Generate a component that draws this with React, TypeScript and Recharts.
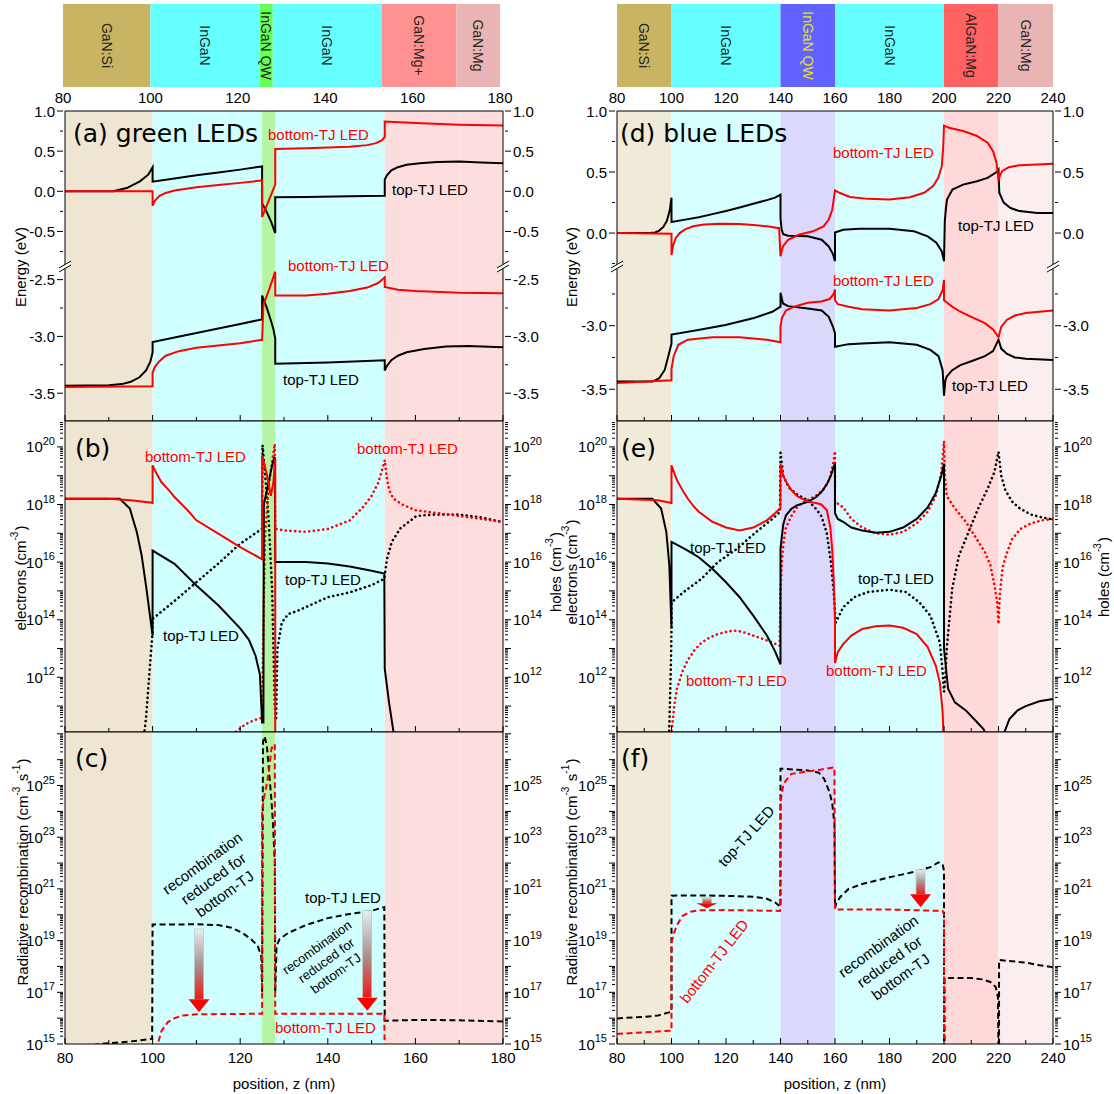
import React from 'react'
import { ComposedChart, Line, Area, XAxis, YAxis, ReferenceArea, ReferenceLine } from 'recharts'

const FONT = '"Liberation Sans", Arial, sans-serif'
const TITLE_FONT = '"DejaVu Sans", Verdana, sans-serif'
const RED = '#ff0000'
const BLK = '#000000'

// layer stacks (nm)
const greenEdges = [80, 100, 125, 128, 153, 170, 180]
const greenNames = ['GaN:Si', 'InGaN', 'InGaN QW', 'InGaN', 'GaN:Mg+', 'GaN:Mg']
const blueEdges = [80, 100, 140, 160, 200, 220, 240]
const blueNames = ['GaN:Si', 'InGaN', 'InGaN QW', 'InGaN', 'AlGaN:Mg', 'GaN:Mg']

const greenTicks = [80, 90, 100, 110, 120, 130, 140, 150, 160, 170, 180]
const blueTicks = [80, 90, 100, 110, 120, 130, 140, 150, 160, 170, 180, 190, 200, 210, 220, 230, 240]

const aUpTicks = [-0.75, -0.5, -0.25, 0, 0.25, 0.5, 0.75, 1]
const aLoTicks = [-3.5, -3.25, -3, -2.75, -2.5]
const dUpTicks = [-0.25, 0, 0.25, 0.5, 0.75, 1]
const dLoTicks = [-3.5, -3.25, -3, -2.75]

// colours
const greenBar = ['#c8b462', '#66ffff', '#66ff55', '#66ffff', '#ff9191', '#e8b4b4']
const blueBar = ['#c8b462', '#66ffff', '#6262ff', '#66ffff', '#ff6262', '#e8b4b4']
const greenShade = ['#eee6d2', '#d0ffff', '#b3f5a5', '#d0ffff', '#fddede', '#fddede']
const blueShade = ['#f0ead8', '#d6fefe', '#dad9fb', '#d6fefe', '#ffd9d9', '#fbeeee']

// (a) energy, eV  [z, E]
const aUpTop = [[80, 0], [91, 0], [94.1, 0.04], [97.1, 0.124], [99, 0.207], [100, 0.3], [100, 0.12], [105, 0.16], [110, 0.2], [115, 0.235], [120, 0.27], [125, 0.31], [125, -0.15], [126, -0.25], [127, -0.37], [128, -0.52], [128, -0.075], [135, -0.07], [145, -0.06], [153, -0.054], [153, 0.145], [153.5, 0.2], [154.5, 0.26], [156, 0.3], [158, 0.33], [161, 0.35], [165, 0.365], [170, 0.37], [175, 0.36], [180, 0.35]]
const aUpBot = [[80, 0], [100, 0], [100, -0.18], [100.5, -0.12], [101.5, -0.06], [103, -0.02], [105, 0.01], [110, 0.05], [115, 0.08], [120, 0.105], [125, 0.135], [125, -0.32], [126.5, -0.12], [128, 0.083], [128, 0.527], [135, 0.535], [140, 0.545], [145, 0.555], [149, 0.575], [151, 0.6], [152.3, 0.635], [153, 0.676], [153, 0.87], [160, 0.85], [170, 0.83], [180, 0.82]]
const aLoTop = [[80, -3.435], [90, -3.43], [93, -3.42], [95, -3.4], [97, -3.36], [98.5, -3.3], [99.5, -3.22], [100, -3.14], [100, -3.05], [105, -3.01], [110, -2.97], [115, -2.93], [120, -2.89], [125, -2.85], [125, -2.64], [126, -2.74], [127, -2.86], [127.6, -2.94], [128, -3.02], [128, -3.24], [140, -3.23], [153, -3.21], [153, -3.3], [153.5, -3.26], [154.5, -3.21], [156, -3.17], [158, -3.14], [162, -3.11], [167, -3.09], [172, -3.085], [180, -3.095]]
const aLoBot = [[80, -3.445], [100, -3.44], [100, -3.32], [100.5, -3.27], [101.5, -3.22], [103, -3.17], [106, -3.13], [110, -3.1], [115, -3.08], [120, -3.06], [125, -3.03], [125.3, -2.72], [126.5, -2.6], [128, -2.43], [128, -2.64], [135, -2.64], [140, -2.625], [145, -2.6], [149, -2.57], [151.5, -2.53], [153, -2.48], [153, -2.565], [156, -2.59], [160, -2.6], [170, -2.615], [180, -2.62]]

// (d) energy, eV
const dUpTop = [[80, 0], [92, 0], [94, 0.005], [95.5, 0.02], [97, 0.05], [98.3, 0.1], [99.3, 0.18], [100, 0.29], [100, 0.09], [105, 0.11], [110, 0.13], [115, 0.155], [120, 0.18], [125, 0.21], [130, 0.24], [135, 0.27], [138, 0.29], [140, 0.315], [140, 0.12], [140.4, 0.03], [141, -0.01], [142.8, -0.022], [150, -0.027], [155.1, -0.055], [157.7, -0.11], [159.2, -0.17], [160, -0.23], [160, 0.005], [163, 0.027], [169, 0.036], [180, 0.036], [189, 0.014], [194, -0.027], [197.2, -0.08], [199.2, -0.15], [200, -0.23], [200.3, 0.1], [200.7, 0.2], [201.1, 0.274], [203.1, 0.356], [207, 0.397], [212.1, 0.425], [216, 0.452], [219.3, 0.5], [220, 0.52], [220.3, 0.33], [221.9, 0.25], [224.4, 0.205], [227.7, 0.18], [234.2, 0.165], [240, 0.164]]
const dUpBot = [[80, 0], [100, -0.005], [100, -0.18], [100.6, -0.1], [101.6, -0.04], [103, 0], [105, 0.03], [108, 0.055], [112, 0.07], [118, 0.077], [125, 0.075], [130, 0.065], [135, 0.055], [139.5, 0.04], [140, -0.19], [140.9, -0.11], [142.8, -0.055], [146.7, -0.014], [151.9, 0.014], [155.8, 0.055], [157.7, 0.11], [159, 0.19], [160, 0.35], [161.6, 0.33], [165.5, 0.296], [172, 0.28], [180, 0.274], [187.5, 0.293], [192.7, 0.33], [196, 0.384], [197.9, 0.452], [199.2, 0.548], [199.7, 0.7], [200, 0.88], [201.8, 0.863], [207, 0.836], [212.1, 0.795], [216, 0.74], [218, 0.67], [219.3, 0.575], [220, 0.44], [221.3, 0.507], [223.8, 0.54], [227.7, 0.556], [234.2, 0.562], [240, 0.567]]
const dLoTop = [[80, -3.44], [93, -3.44], [95.5, -3.414], [97.5, -3.348], [98.8, -3.243], [100, -3.139], [100, -3.07], [109.8, -3.034], [119.8, -2.995], [129.9, -2.942], [137, -2.89], [140, -2.85], [140, -2.74], [140.9, -2.825], [142.8, -2.846], [150, -2.864], [155.1, -2.88], [157.7, -2.93], [159.3, -3.01], [160, -3.06], [160, -3.165], [165, -3.145], [170, -3.14], [180, -3.13], [190, -3.15], [195, -3.19], [198, -3.24], [199.5, -3.35], [200, -3.55], [200.5, -3.43], [201, -3.4], [203, -3.35], [206, -3.31], [210, -3.28], [215, -3.24], [218, -3.2], [220, -3.11], [221, -3.18], [223, -3.22], [226, -3.25], [230, -3.26], [240, -3.27]]
const dLoBot = [[80, -3.45], [100, -3.43], [100, -3.34], [100.8, -3.24], [102.5, -3.15], [106, -3.11], [115, -3.09], [125, -3.09], [135, -3.11], [140, -3.13], [140, -3.01], [140.5, -2.94], [142, -2.88], [145, -2.85], [150, -2.82], [155, -2.81], [158, -2.79], [159.5, -2.75], [160, -2.715], [160, -2.8], [161, -2.83], [165, -2.85], [170, -2.87], [180, -2.88], [190, -2.86], [195, -2.83], [198, -2.79], [199.5, -2.72], [200, -2.64], [200, -2.8], [203, -2.85], [206, -2.89], [210, -2.93], [215, -2.98], [218, -3.03], [220, -3.09], [221, -3.01], [223, -2.955], [226, -2.92], [230, -2.9], [240, -2.88]]

// (b) carriers, log10(cm^-3)
const bElecTop = [[80, 18.2], [92.5, 18.2], [94.8, 17.86], [96.4, 17.04], [97.5, 16.23], [98.6, 15.07], [99.4, 14.14], [100, 13.45], [100, 16.4], [105, 15.94], [110, 15.19], [115, 14.5], [120, 13.7], [122, 13.3], [123.5, 12.75], [124.5, 12.1], [125, 10.43], [125.3, 10.43], [125.4, 18.0], [126.5, 18.8], [127.5, 19.5], [127.9, 19.65], [128, 16.0], [135, 16.0], [140, 15.95], [145, 15.85], [150, 15.7], [152.9, 15.6], [153, 12.3], [154, 11.1], [155, 10.1], [155.5, 9.5]]
const bElecBot = [[80, 18.2], [90, 18.2], [95, 18.15], [100, 18.06], [100, 19.36], [101, 19.05], [102, 18.78], [104, 18.45], [105, 18.26], [108, 17.8], [110, 17.45], [115, 16.99], [120, 16.52], [125, 16.1], [125, 19.7], [126, 19.1], [127, 18.3], [127.6, 18.8], [128, 19.6], [128, 9]]
const bHoleTop = [[97.7, 9.5], [98.5, 10.6], [99.2, 12.0], [100, 13.6], [100, 14.03], [105, 14.65], [110, 15.3], [115, 15.95], [120, 16.64], [125, 17.16], [125.1, 20.06], [125.6, 19.2], [126.5, 17.5], [127.3, 15], [127.9, 11], [128.2, 10.5], [128.5, 12.99], [129.5, 13.9], [131, 14.2], [133, 14.3], [140, 14.78], [145, 14.95], [150, 15.2], [152.9, 15.42], [153.5, 16.1], [154.6, 16.7], [156.5, 17.16], [160.2, 17.6], [164, 17.65], [170, 17.65], [175, 17.55], [180, 17.39]]
const bHoleBot = [[117.5, 9.5], [119, 10.1], [121, 10.35], [123, 10.5], [125, 10.6], [125.3, 14], [125.7, 17], [126.5, 18.6], [127.3, 19.5], [127.9, 20.1], [128, 17.16], [130, 17.1], [135, 17.05], [140, 17.15], [145, 17.45], [148, 17.9], [150, 18.3], [151.5, 18.75], [152.5, 19.25], [153, 19.54], [153.4, 19.0], [154, 18.5], [155, 18.2], [157, 18.0], [160, 17.8], [165, 17.7], [170, 17.6], [175, 17.5], [180, 17.39]]

// (e) carriers, log10(cm^-3)
const eElecTop = [[80, 18.2], [93, 18.2], [96.2, 17.86], [98.1, 17.04], [99.2, 15.9], [100, 13.7], [100, 16.7], [105, 16.45], [110, 16.17], [115, 15.77], [120, 15.3], [125, 14.78], [130, 14.14], [135, 13.45], [138, 12.9], [140, 12.45], [140, 16.46], [141, 17.3], [142, 17.62], [144, 17.85], [146, 17.97], [150, 18.09], [153, 18.25], [155, 18.43], [157, 18.7], [158.5, 19.0], [159.5, 19.3], [160, 19.42], [160, 17.7], [161, 17.5], [163, 17.4], [166, 17.2], [170, 17.1], [175, 17.02], [180, 17.05], [185, 17.2], [190, 17.5], [194, 17.9], [197, 18.4], [199, 19.0], [200, 19.42], [200, 13.0], [201.5, 11.6], [204, 11.13], [208, 10.85], [211, 10.55], [214.5, 10.2], [216.5, 9.8], [217, 9], [221.5, 9], [222, 10.05], [224, 10.55], [227, 10.85], [230, 11.0], [235, 11.17], [240, 11.25]]
const eElecBot = [[80, 18.2], [95, 18.15], [100, 18.05], [100, 19.36], [101, 19.1], [102, 18.85], [104, 18.5], [106, 18.2], [108, 17.95], [110, 17.75], [115, 17.4], [120, 17.2], [125, 17.1], [130, 17.2], [135, 17.45], [138, 17.7], [140, 17.88], [140, 19.4], [141, 19.0], [142, 18.8], [144, 18.5], [146, 18.3], [150, 18.1], [153, 18.05], [155, 18.0], [157, 17.8], [158.3, 17.2], [159, 16.4], [159.6, 15.2], [160, 14.0], [160, 12.5], [161, 12.87], [163, 13.15], [166, 13.45], [170, 13.68], [175, 13.77], [180, 13.8], [185, 13.72], [190, 13.5], [194, 13.05], [197, 12.4], [198.5, 11.8], [199.5, 10.8], [200, 9.5], [200, 9]]
const eHoleTop = [[98.8, 9], [99.4, 11], [99.8, 12.5], [100, 13.7], [100, 14.6], [105, 15.0], [111, 15.42], [117, 16.0], [124, 16.46], [130.5, 17.0], [137, 17.5], [139.8, 17.74], [140, 19.8], [141, 19.0], [143, 18.6], [146, 18.35], [150, 18.15], [153, 17.85], [155, 17.6], [157, 17.0], [158.5, 16.0], [159.5, 15.0], [160, 14.3], [160.3, 13.9], [163, 14.43], [167, 14.78], [172, 14.96], [180, 15.04], [186, 14.96], [191, 14.6], [195, 14.14], [198.5, 13.2], [199.5, 12.2], [200, 11.5], [200.5, 12.0], [201, 13.0], [203, 15.07], [205.5, 16.23], [209.5, 17.16], [212.5, 17.85], [216, 18.55], [218.5, 19.13], [220, 19.83], [221, 19.0], [222.5, 18.5], [225, 18.1], [228, 17.85], [232, 17.65], [236, 17.55], [240, 17.48]]
const eHoleBot = [[99.5, 9], [100, 10.1], [101, 11.0], [102, 11.6], [104, 12.2], [106, 12.6], [108.5, 12.95], [111, 13.2], [114, 13.38], [117, 13.5], [121, 13.6], [124, 13.62], [127, 13.55], [130, 13.45], [134.5, 13.3], [139.7, 13.1], [140, 15.0], [140.5, 16.0], [141, 16.6], [142, 17.2], [144, 17.6], [146, 17.9], [148, 18.05], [150, 18.15], [153, 18.3], [156, 18.55], [158, 18.9], [159.5, 19.5], [160, 19.85], [160, 18.1], [163, 17.9], [166, 17.5], [170, 17.2], [175, 17.0], [180, 16.95], [185, 17.05], [190, 17.35], [194, 17.75], [197, 18.3], [199, 19.1], [200, 20.2], [200.3, 19.0], [201, 18.3], [203, 18.0], [205, 17.75], [208, 17.4], [212, 16.8], [215, 16.35], [217, 15.9], [218.5, 15.2], [219.5, 14.6], [220, 13.85], [220.5, 14.9], [221.5, 15.8], [223, 16.3], [225, 16.8], [228, 17.15], [232, 17.35], [236, 17.45], [240, 17.5]]

// (c) / (f) radiative recombination, log10(cm^-3 s^-1)
const cRecTop = [[80, 14.8], [88, 15.0], [95, 15.1], [99.9, 15.2], [100, 19.62], [110, 19.63], [115, 19.6], [118, 19.5], [120.5, 19.3], [122.5, 19.05], [124, 18.8], [124.8, 18.4], [125, 17.0], [125.2, 26.7], [125.6, 26.9], [126.1, 26.5], [126.6, 25.5], [127.1, 24.5], [127.5, 23.5], [127.9, 22.0], [128, 17.0], [128.3, 18.8], [129, 19.06], [131, 19.3], [135, 19.6], [140, 19.87], [145, 20.03], [150, 20.15], [152.9, 20.3], [153, 15.9], [160, 15.93], [170, 15.92], [180, 15.87]]
const cRecBot = [[100.5, 14], [101.2, 15.0], [102, 15.5], [103.5, 15.85], [105, 16.0], [107, 16.1], [110, 16.15], [125, 16.17], [125, 24.0], [125.4, 24.5], [126, 25.0], [126.6, 25.6], [127.1, 26.4], [127.5, 26.55], [127.9, 26.6], [128, 16.17], [140, 16.17], [152.9, 16.17], [153, 14]]
const fRecTop = [[80, 15.99], [90, 16.05], [95, 16.1], [100, 16.25], [100, 20.74], [110, 20.75], [120, 20.73], [130, 20.7], [135, 20.62], [138, 20.48], [140, 20.3], [140, 25.65], [145, 25.62], [150, 25.58], [154, 25.5], [156, 25.26], [158, 24.74], [159, 24.3], [159.8, 23.5], [160, 20.25], [160.5, 20.45], [162, 20.7], [165, 21.0], [170, 21.19], [180, 21.45], [190, 21.68], [195, 21.84], [198, 22.03], [199.5, 21.95], [200, 21.7], [200, 14.5], [200.2, 14.5], [200.2, 17.55], [210, 17.55], [214, 17.5], [217, 17.4], [219, 17.2], [219.8, 16.8], [220, 14.5], [220.2, 14.5], [220.2, 18.25], [225, 18.2], [230, 18.15], [235, 18.05], [240, 17.97]]
const fRecBot = [[80, 15.39], [90, 15.45], [100, 15.52], [100, 18.94], [101, 19.32], [102, 19.6], [104, 19.95], [107, 20.12], [110, 20.17], [120, 20.18], [139.8, 20.15], [140, 24.35], [140.5, 24.7], [141, 25.0], [142, 25.2], [144, 25.45], [150, 25.55], [155, 25.62], [159.8, 25.7], [160, 20.2], [180, 20.2], [199.5, 20.15], [200, 20.0], [200, 14]]

// "reduced" arrows: [z, from, to] in log10 units
const cArrows = [[110.6, 19.45, 16.23], [149, 20.16, 16.29]]
const fArrows = [[113, 20.68, 20.25], [191.4, 21.75, 20.29]]

const AX = 60
const PAD = 20

const STYLE: Record<string, any> = {
  solid: { strokeWidth: 2 },
  dot: { strokeWidth: 2.6, strokeDasharray: '0.1 4.6', strokeLinecap: 'round' },
  dash: { strokeWidth: 2, strokeDasharray: '6 3.5' },
}

type Series = { pts: number[][]; color: string; kind: 'solid' | 'dot' | 'dash' }

function logTicks(lo: number, hi: number) {
  const t: number[] = []
  for (let d = Math.floor(lo); d <= Math.ceil(hi); d++) {
    for (let m = 1; m < 10; m++) {
      const v = m * Math.pow(10, d)
      const e = Math.log10(v)
      if (e >= lo - 1e-9 && e <= hi + 1e-9) t.push(v)
    }
  }
  return t
}

function XTick(props: any) {
  const { x, y, payload, dir, labelGap } = props
  const v = payload.value
  const major = v % 20 === 0
  return (
    <g>
      {dir !== 0 && <line x1={x} x2={x} y1={y} y2={y + dir * (major ? 6 : 4)} stroke={BLK} strokeWidth={1} />}
      {labelGap > 0 && major && (
        <text x={x} y={y + labelGap} textAnchor="middle" dominantBaseline="central" fontSize={15} fontFamily={FONT} fill={BLK}>
          {v}
        </text>
      )}
    </g>
  )
}

function YTick(props: any) {
  const { x, y, payload, side, log, odd, maxLabel } = props
  const v = payload.value
  let len = 3
  let label: React.ReactNode = null
  if (log) {
    const e = Math.log10(v)
    if (Math.abs(e - Math.round(e)) < 1e-6) {
      len = 6
      const n = Math.round(e)
      if (Math.abs(n % 2) === (odd ? 1 : 0) && n <= maxLabel) {
        label = (
          <>
            10<tspan dy={-6} fontSize={11}>{n}</tspan>
          </>
        )
      }
    }
  } else {
    const h = v * 2
    if (Math.abs(h - Math.round(h)) < 1e-6) {
      len = 6
      label = Math.abs(v) < 1e-9 ? '0.0' : v.toFixed(1)
    }
  }
  return (
    <g>
      <line x1={x} x2={x + side * len} y1={y} y2={y} stroke={BLK} strokeWidth={1} />
      {label !== null && (
        <text x={x + side * 8} y={y} textAnchor={side < 0 ? 'end' : 'start'} dominantBaseline="central" fontSize={15} fontFamily={FONT} fill={BLK}>
          {label}
        </text>
      )}
    </g>
  )
}

function GradArrow(props: any) {
  const { x1, y1, y2 } = props
  const len = y2 - y1
  const head = Math.min(13, len * 0.45)
  const id = `arr${Math.round(x1)}_${Math.round(y1)}`
  return (
    <g>
      <defs>
        <linearGradient id={id} x1="0" y1="0" x2="0" y2="1">
          <stop offset="0" stopColor="#e6eeee" />
          <stop offset="0.5" stopColor="#a89494" />
          <stop offset="1" stopColor="#f01818" />
        </linearGradient>
      </defs>
      <rect x={x1 - 4.5} y={y1} width={9} height={len - head} fill={`url(#${id})`} stroke="#b4c0c0" strokeWidth={0.6} />
      <polygon points={`${x1 - 10.5},${y2 - head} ${x1 + 10.5},${y2 - head} ${x1},${y2}`} fill="#ff0000" />
    </g>
  )
}

type PanelProps = {
  l: number
  t: number
  w: number
  h: number
  edges: number[]
  shade: string[]
  xTicks: number[]
  yDomain: number[]
  yTicks?: number[]
  log?: boolean
  odd?: boolean
  top: 'ticks' | 'line' | 'none'
  bottom: 'ticks' | 'labels' | 'none'
  series: Series[]
  arrows?: number[][]
}

function Panel(p: PanelProps) {
  const x0 = p.edges[0]
  const x1 = p.edges[p.edges.length - 1]
  const conv = (v: number) => (p.log ? Math.pow(10, v) : v)
  const yDom = [conv(p.yDomain[0]), conv(p.yDomain[1])]
  const yTicks = p.log ? logTicks(p.yDomain[0], p.yDomain[1]) : p.yTicks
  const maxLabel = p.yDomain[1] - 0.5
  const axLine = { stroke: BLK, strokeWidth: 1 }
  const yCommon: any = {
    type: 'number',
    domain: yDom,
    ticks: yTicks,
    interval: 0,
    allowDataOverflow: true,
    scale: p.log ? 'log' : 'linear',
    width: AX,
    tickSize: 0,
    tickLine: false,
    axisLine: axLine,
  }
  return (
    <div style={{ position: 'absolute', left: p.l - AX, top: p.t - PAD }}>
      <ComposedChart width={p.w + 2 * AX} height={p.h + 2 * PAD} margin={{ top: PAD - 1, right: 0, bottom: PAD - 1, left: 0 }}>
        <XAxis
          xAxisId="b"
          type="number"
          dataKey="x"
          domain={[x0, x1]}
          ticks={p.xTicks}
          interval={0}
          allowDataOverflow
          height={1}
          tickSize={0}
          tickMargin={0}
          tickLine={false}
          axisLine={p.bottom === 'none' ? false : axLine}
          tick={p.bottom === 'none' ? false : <XTick dir={-1} labelGap={p.bottom === 'labels' ? 13 : 0} />}
        />
        <XAxis
          xAxisId="t"
          orientation="top"
          type="number"
          domain={[x0, x1]}
          ticks={p.xTicks}
          interval={0}
          allowDataOverflow
          height={1}
          tickSize={0}
          tickMargin={0}
          tickLine={false}
          axisLine={p.top === 'none' ? false : axLine}
          tick={p.top === 'ticks' ? <XTick dir={1} labelGap={0} /> : false}
        />
        <YAxis yAxisId="l" orientation="left" {...yCommon} tick={<YTick side={-1} log={p.log} odd={p.odd} maxLabel={maxLabel} />} />
        <YAxis yAxisId="r" orientation="right" {...yCommon} tick={<YTick side={1} log={p.log} odd={p.odd} maxLabel={maxLabel} />} />
        {p.shade.map((c, i) => (
          <ReferenceArea key={`s${i}`} xAxisId="b" yAxisId="l" x1={p.edges[i]} x2={p.edges[i + 1]} fill={c} fillOpacity={1} stroke="none" />
        ))}
        {p.series.map((s, i) => (
          <Line
            key={`l${i}`}
            xAxisId="b"
            yAxisId="l"
            data={s.pts.map(([x, v]) => ({ x, y: conv(v) }))}
            dataKey="y"
            type="linear"
            stroke={s.color}
            dot={false}
            activeDot={false}
            isAnimationActive={false}
            {...STYLE[s.kind]}
          />
        ))}
        {(p.arrows || []).map(([z, a, b], i) => (
          <ReferenceLine
            key={`a${i}`}
            xAxisId="b"
            yAxisId="l"
            segment={[{ x: z, y: conv(a) }, { x: z, y: conv(b) }]}
            shape={(sp: any) => <GradArrow {...sp} />}
          />
        ))}
      </ComposedChart>
    </div>
  )
}

function LayerName(props: any) {
  const { viewBox, text, color } = props
  if (!viewBox) return null
  const cx = viewBox.x + viewBox.width / 2
  const cy = viewBox.y + viewBox.height / 2
  return (
    <text x={cx} y={cy} transform={`rotate(90 ${cx} ${cy})`} textAnchor="middle" dominantBaseline="central" fontSize={14} fontFamily={FONT} fill={color}>
      {text}
    </text>
  )
}

function LayerBar({ l, w, edges, names, fills, ticks, qwColor }: any) {
  return (
    <div style={{ position: 'absolute', left: l - AX, top: 4 - PAD }}>
      <ComposedChart width={w + 2 * AX} height={83 + 2 * PAD} margin={{ top: PAD, right: AX, bottom: PAD - 1, left: AX }}>
        <XAxis
          xAxisId="b"
          type="number"
          dataKey="x"
          domain={[edges[0], edges[edges.length - 1]]}
          ticks={ticks}
          interval={0}
          allowDataOverflow
          height={1}
          tickSize={0}
          tickMargin={0}
          tickLine={false}
          axisLine={false}
          tick={<XTick dir={0} labelGap={10} />}
        />
        <YAxis yAxisId="l" hide type="number" domain={[0, 1]} allowDataOverflow />
        {names.map((n: string, i: number) => (
          <Area
            key={`f${i}`}
            xAxisId="b"
            yAxisId="l"
            data={[{ x: edges[i], y: 1 }, { x: edges[i + 1], y: 1 }]}
            dataKey="y"
            type="linear"
            baseValue={0}
            stroke="none"
            fill={fills[i]}
            fillOpacity={1}
            dot={false}
            activeDot={false}
            isAnimationActive={false}
          />
        ))}
        {names.map((n: string, i: number) => (
          <ReferenceArea
            key={`n${i}`}
            xAxisId="b"
            yAxisId="l"
            x1={edges[i]}
            x2={edges[i + 1]}
            y1={0}
            y2={1}
            fill="none"
            fillOpacity={0}
            stroke="none"
            label={<LayerName text={n} color={n === 'InGaN QW' && qwColor ? qwColor : '#222'} />}
          />
        ))}
      </ComposedChart>
    </div>
  )
}

function Sup({ children }: { children: React.ReactNode }) {
  return (
    <>
      <tspan dy={-6} fontSize={10}>{children}</tspan>
      <tspan dy={6}>{'\u200a'}</tspan>
    </>
  )
}

function Note({ x, y, c = BLK, size = 15, font = FONT, children }: any) {
  return (
    <text x={x} y={y} dominantBaseline="central" fontSize={size} fontFamily={font} fill={c}>
      {children}
    </text>
  )
}

function VTitle({ x, y, children }: any) {
  return (
    <text x={x} y={y} transform={`rotate(-90 ${x} ${y})`} textAnchor="middle" dominantBaseline="central" fontSize={15} fontFamily={FONT} fill={BLK}>
      {children}
    </text>
  )
}

function Block({ x, y, angle, size = 15, gap = 19, lines }: any) {
  return (
    <text transform={`rotate(${angle} ${x} ${y})`} textAnchor="middle" dominantBaseline="central" fontSize={size} fontFamily={FONT} fill={BLK}>
      {lines.map((s: string, i: number) => (
        <tspan key={i} x={x} y={y + (i - (lines.length - 1) / 2) * gap}>
          {s}
        </tspan>
      ))}
    </text>
  )
}

function Rot({ x, y, angle, c = BLK, children }: any) {
  return (
    <text x={x} y={y} transform={`rotate(${angle} ${x} ${y})`} textAnchor="middle" dominantBaseline="central" fontSize={15} fontFamily={FONT} fill={c}>
      {children}
    </text>
  )
}

function Overlay() {
  const brk = (x: number) => (
    <g key={x}>
      <polygon points={`${x - 6},268 ${x + 6},261 ${x + 6},265 ${x - 6},272`} fill="#fff" />
      <line x1={x - 6} y1={268} x2={x + 6} y2={261} stroke={BLK} />
      <line x1={x - 6} y1={272} x2={x + 6} y2={265} stroke={BLK} />
    </g>
  )
  const recomb = ['recombination', 'reduced for', 'bottom-TJ']
  return (
    <svg width={1114} height={1094} style={{ position: 'absolute', left: 0, top: 0, pointerEvents: 'none' }}>
      {[65, 503, 617, 1053].map(brk)}

      <Note x={73} y={133} size={25} font={TITLE_FONT}>(a) green LEDs</Note>
      <Note x={268} y={134} c={RED}>bottom-TJ LED</Note>
      <Note x={392} y={189}>top-TJ LED</Note>
      <Note x={288} y={265} c={RED}>bottom-TJ LED</Note>
      <Note x={283} y={379}>top-TJ LED</Note>

      <Note x={620} y={133} size={25} font={TITLE_FONT}>(d) blue LEDs</Note>
      <Note x={833} y={152} c={RED}>bottom-TJ LED</Note>
      <Note x={958} y={225}>top-TJ LED</Note>
      <Note x={833} y={280} c={RED}>bottom-TJ LED</Note>
      <Note x={952} y={385}>top-TJ LED</Note>

      <Note x={75} y={448} size={25} font={TITLE_FONT}>(b)</Note>
      <Note x={145} y={456} c={RED}>bottom-TJ LED</Note>
      <Note x={357} y={448} c={RED}>bottom-TJ LED</Note>
      <Note x={285} y={579}>top-TJ LED</Note>
      <Note x={163} y={635}>top-TJ LED</Note>

      <Note x={621} y={448} size={25} font={TITLE_FONT}>(e)</Note>
      <Note x={690} y={547}>top-TJ LED</Note>
      <Note x={858} y={578}>top-TJ LED</Note>
      <Note x={686} y={680} c={RED}>bottom-TJ LED</Note>
      <Note x={826} y={670} c={RED}>bottom-TJ LED</Note>

      <Note x={75} y={758} size={25} font={TITLE_FONT}>(c)</Note>
      <Block x={213} y={878} angle={-36} lines={recomb} />
      <Block x={326} y={960} angle={-36} size={13} gap={16} lines={recomb} />
      <Note x={305} y={897}>top-TJ LED</Note>
      <Note x={275} y={1027} c={RED}>bottom-TJ LED</Note>

      <Note x={621} y={758} size={25} font={TITLE_FONT}>(f)</Note>
      <Rot x={746} y={836} angle={-48}>top-TJ LED</Rot>
      <Rot x={714} y={961} angle={-52} c={RED}>bottom-TJ LED</Rot>
      <Block x={889} y={961} angle={-36} lines={recomb} />

      <VTitle x={20} y={267}>Energy (eV)</VTitle>
      <VTitle x={571} y={267}>Energy (eV)</VTitle>
      <VTitle x={20} y={578}>
        electrons (cm<Sup>-3</Sup>)
      </VTitle>
      <VTitle x={555} y={572}>
        holes (cm<Sup>-3</Sup>)
      </VTitle>
      <VTitle x={571} y={572}>
        electrons (cm<Sup>-3</Sup>)
      </VTitle>
      <VTitle x={1103} y={577}>
        holes (cm<Sup>-3</Sup>)
      </VTitle>
      <VTitle x={22} y={872}>
        Radiative recombination (cm<Sup>-3</Sup> s<Sup>-1</Sup>)
      </VTitle>
      <VTitle x={571} y={872}>
        Radiative recombination (cm<Sup>-3</Sup> s<Sup>-1</Sup>)
      </VTitle>
      <text x={284} y={1083} textAnchor="middle" dominantBaseline="central" fontSize={15} fontFamily={FONT}>position, z (nm)</text>
      <text x={835} y={1083} textAnchor="middle" dominantBaseline="central" fontSize={15} fontFamily={FONT}>position, z (nm)</text>
    </svg>
  )
}

const GL = 65
const GW = 438
const BL = 617
const BW = 436

export default function App() {
  return (
    <div style={{ position: 'absolute', left: 0, top: 0, width: 1114, height: 1094, background: '#fff', overflow: 'hidden' }}>
      <LayerBar l={63} w={437} edges={greenEdges} names={greenNames} fills={greenBar} ticks={greenTicks} />
      <LayerBar l={BL} w={BW} edges={blueEdges} names={blueNames} fills={blueBar} ticks={blueTicks} qwColor="#e6e600" />

      <Panel l={GL} t={111} w={GW} h={155} edges={greenEdges} shade={greenShade} xTicks={greenTicks} yDomain={[-0.93, 1]} yTicks={aUpTicks} top="ticks" bottom="none"
        series={[{ pts: aUpTop, color: BLK, kind: 'solid' }, { pts: aUpBot, color: RED, kind: 'solid' }]} />
      <Panel l={GL} t={266} w={GW} h={155} edges={greenEdges} shade={greenShade} xTicks={greenTicks} yDomain={[-3.745, -2.38]} yTicks={aLoTicks} top="none" bottom="ticks"
        series={[{ pts: aLoTop, color: BLK, kind: 'solid' }, { pts: aLoBot, color: RED, kind: 'solid' }]} />
      <Panel l={GL} t={421} w={GW} h={311} edges={greenEdges} shade={greenShade} xTicks={greenTicks} yDomain={[10.1, 20.9]} log top="line" bottom="ticks"
        series={[
          { pts: bHoleTop, color: BLK, kind: 'dot' },
          { pts: bHoleBot, color: RED, kind: 'dot' },
          { pts: bElecTop, color: BLK, kind: 'solid' },
          { pts: bElecBot, color: RED, kind: 'solid' },
        ]} />
      <Panel l={GL} t={732} w={GW} h={312} edges={greenEdges} shade={greenShade} xTicks={greenTicks} yDomain={[15, 27.07]} log odd top="line" bottom="labels"
        series={[{ pts: cRecTop, color: BLK, kind: 'dash' }, { pts: cRecBot, color: RED, kind: 'dash' }]} arrows={cArrows} />

      <Panel l={BL} t={111} w={BW} h={155} edges={blueEdges} shade={blueShade} xTicks={blueTicks} yDomain={[-0.27, 1]} yTicks={dUpTicks} top="ticks" bottom="none"
        series={[{ pts: dUpTop, color: BLK, kind: 'solid' }, { pts: dUpBot, color: RED, kind: 'solid' }]} />
      <Panel l={BL} t={266} w={BW} h={155} edges={blueEdges} shade={blueShade} xTicks={blueTicks} yDomain={[-3.75, -2.53]} yTicks={dLoTicks} top="none" bottom="ticks"
        series={[{ pts: dLoTop, color: BLK, kind: 'solid' }, { pts: dLoBot, color: RED, kind: 'solid' }]} />
      <Panel l={BL} t={421} w={BW} h={311} edges={blueEdges} shade={blueShade} xTicks={blueTicks} yDomain={[10.1, 20.9]} log top="line" bottom="ticks"
        series={[
          { pts: eHoleTop, color: BLK, kind: 'dot' },
          { pts: eHoleBot, color: RED, kind: 'dot' },
          { pts: eElecTop, color: BLK, kind: 'solid' },
          { pts: eElecBot, color: RED, kind: 'solid' },
        ]} />
      <Panel l={BL} t={732} w={BW} h={312} edges={blueEdges} shade={blueShade} xTicks={blueTicks} yDomain={[15, 27.07]} log odd top="line" bottom="labels"
        series={[{ pts: fRecTop, color: BLK, kind: 'dash' }, { pts: fRecBot, color: RED, kind: 'dash' }]} arrows={fArrows} />

      <Overlay />
    </div>
  )
}
